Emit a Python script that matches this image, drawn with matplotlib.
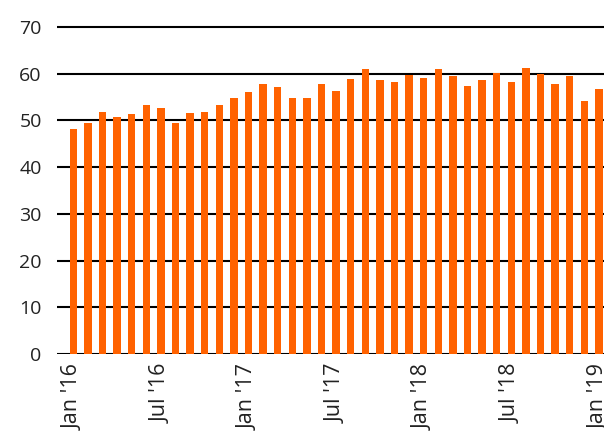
import matplotlib
matplotlib.use("Agg")
import matplotlib.pyplot as plt

# monthly values Jan '16 .. Jan '19
values = [48.2, 49.5, 51.8, 50.8, 51.4, 53.2, 52.6, 49.4, 51.5, 51.9, 53.2, 54.7,
          56.1, 57.8, 57.2, 54.8, 54.9, 57.9, 56.3, 58.9, 60.9, 58.7, 58.3, 59.7,
          59.1, 60.9, 59.4, 57.4, 58.7, 60.2, 58.2, 61.3, 59.9, 57.8, 59.4, 54.2,
          56.7]
tick_pos = [0, 6, 12, 18, 24, 30, 36]
tick_labels = ["Jan '16", "Jul '16", "Jan '17", "Jul '17", "Jan '18", "Jul '18", "Jan '19"]
y_ticks = [0, 10, 20, 30, 40, 50, 60, 70]

plt.rcParams['font.family'] = ['Open Sans', 'DejaVu Sans']

fig = plt.figure(figsize=(6.04, 4.36), dpi=100)
ax = fig.add_axes([57/604, 1 - 354/436, 1 - 57/604, (354 - 22.3)/436])

ax.bar(range(len(values)), values, width=0.5, color="#FF6200", zorder=3)

ax.set_ylim(0, 71)
ax.set_xlim(-1.12, 36.35)
ax.set_yticks(y_ticks)
ax.set_xticks(tick_pos)
ax.set_xticklabels(tick_labels, rotation=90)
ax.tick_params(axis="both", length=0, colors="#222222")
ax.tick_params(axis="y", pad=11, labelsize=14)
ax.tick_params(axis="x", pad=7, labelsize=15.5)
ax.grid(axis="y", color="black", linewidth=1.5, zorder=0)
ax.set_axisbelow(True)
for s in ax.spines.values():
    s.set_visible(False)

fig.savefig("out.png", dpi=100)
